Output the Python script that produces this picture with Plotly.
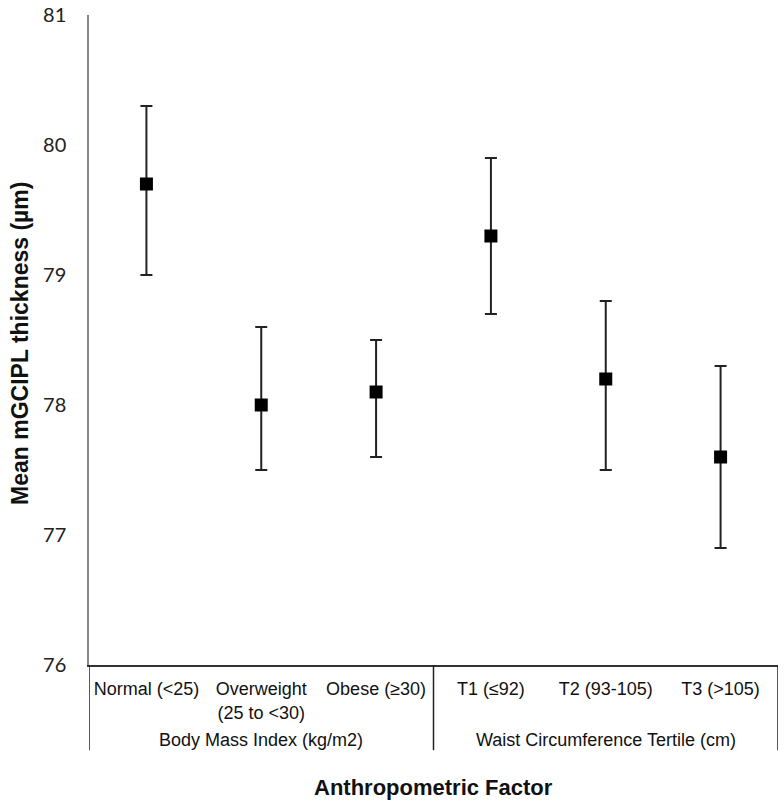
import plotly.graph_objects as go

categories = ["Normal (<25)", "Overweight<br>(25 to <30)", "Obese (≥30)",
              "T1 (≤92)", "T2 (93-105)", "T3 (>105)"]
groups = ["Body Mass Index (kg/m2)", "Waist Circumference Tertile (cm)"]
group_members = [3, 3]
means = [79.7, 78.0, 78.1, 79.3, 78.2, 77.6]
upper_ci = [80.3, 78.6, 78.5, 79.9, 78.8, 78.3]
lower_ci = [79.0, 77.5, 77.6, 78.7, 77.5, 76.9]
y_ticks = [76, 77, 78, 79, 80, 81]

err_plus = [u - m for u, m in zip(upper_ci, means)]
err_minus = [m - l for m, l in zip(means, lower_ci)]

fig = go.Figure()
fig.add_trace(go.Scatter(
    x=categories, y=means, mode="markers",
    marker=dict(symbol="square", size=13, color="black"),
    error_y=dict(type="data", symmetric=False, array=err_plus, arrayminus=err_minus,
                 color="#222222", thickness=2, width=6),
    showlegend=False, cliponaxis=False,
))

ax_font = dict(family="Liberation Sans, Arial, sans-serif", size=18, color="#111111")

fig.update_layout(
    width=784, height=807,
    margin=dict(l=89, r=6, t=15, b=142, autoexpand=False),
    plot_bgcolor="white", paper_bgcolor="white",
    xaxis=dict(type="category", categoryorder="array", categoryarray=categories,
               range=[-0.5, 5.5], showline=True, linecolor="#333333", linewidth=1.5,
               showgrid=False, zeroline=False, ticks="", tickfont=ax_font,
               ticklabelstandoff=7, automargin=False),
    yaxis=dict(range=[76, 81], tickvals=y_ticks, showline=True, linecolor="#888888",
               linewidth=1.5, showgrid=False, zeroline=False, ticks="",
               tickfont=dict(family="Lato, Open Sans, sans-serif", size=20, color="#222222"),
               ticklabelstandoff=17, automargin=False),
)

# group dividers
bounds = [-0.5]
for n in group_members:
    bounds.append(bounds[-1] + n)
for b in bounds:
    fig.add_shape(type="line", xref="x", yref="paper", x0=b, x1=b, y0=0, y1=-0.131,
                  line=dict(color="#222222", width=1.5))

# group labels
for i, g in enumerate(groups):
    center = (bounds[i] + bounds[i + 1]) / 2
    fig.add_annotation(x=center, y=-0.1154, xref="x", yref="paper", text=g,
                       showarrow=False, yanchor="middle", font=ax_font)

fig.add_annotation(x=0.5, y=-0.1877, xref="paper", yref="paper",
                   text="<b>Anthropometric Factor</b>", showarrow=False, yanchor="middle",
                   font=dict(family="Liberation Sans, Arial, sans-serif", size=22, color="#111111"))
fig.add_annotation(x=-0.1001, y=0.494, xref="paper", yref="paper",
                   text="<b>Mean mGCIPL thickness (µm)</b>", showarrow=False, textangle=-90,
                   xanchor="center", yanchor="middle",
                   font=dict(family="Liberation Sans, Arial, sans-serif", size=23, color="#111111"))

fig.write_html("out.html", config={"displayModeBar": False},
               post_script="document.body.style.margin='0';document.body.style.padding='0';")
